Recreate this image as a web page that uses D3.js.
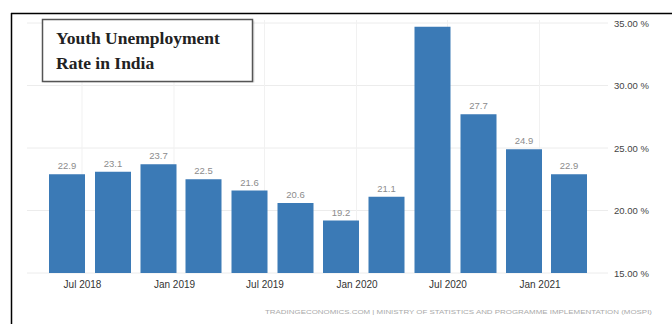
<!DOCTYPE html>
<head>
  <meta charset="utf-8">
  <script src="https://cdn.jsdelivr.net/npm/d3@7"></script>
  <style>
    body { margin: 0; background: #fff; }
    text { font-family: "Liberation Sans", Arial, sans-serif; }
  </style>
</head>
<body>
<div id="container"></div>
<script>
  // quarterly readings (bar sits on the quarter month)
  const quarters = ['2018-06', '2018-09', '2018-12', '2019-03', '2019-06', '2019-09',
                    '2019-12', '2020-03', '2020-06', '2020-09', '2020-12', '2021-03'];
  const rates = [22.9, 23.1, 23.7, 22.5, 21.6, 20.6, 19.2, 21.1, 34.7, 27.7, 24.9, 22.9];
  const xTicks = ['2018-07', '2019-01', '2019-07', '2020-01', '2020-07', '2021-01'];
  const yTicks = [15, 20, 25, 30, 35];
  const titleLines = ['Youth Unemployment', 'Rate in India'];
  const source = 'TRADINGECONOMICS.COM  |  MINISTRY OF STATISTICS AND PROGRAMME IMPLEMENTATION (MOSPI)';

  const width = 672, height = 324;
  const barWidth = 36;
  const parse = d3.timeParse('%Y-%m');

  const svg = d3.select('#container').append('svg')
    .attr('width', width)
    .attr('height', height);

  const x = d3.scaleTime()
    .domain([parse(quarters[0]), parse(quarters[quarters.length - 1])])
    .range([67, 569]);

  const y = d3.scaleLinear()
    .domain([15, 35])
    .range([273, 23]);

  // gridlines
  svg.append('g').selectAll('line')
    .data(yTicks)
    .join('line')
      .attr('x1', 27).attr('x2', 608)
      .attr('y1', d => y(d)).attr('y2', d => y(d))
      .attr('stroke', '#ececec');

  svg.append('g').selectAll('line')
    .data(xTicks)
    .join('line')
      .attr('x1', d => x(parse(d))).attr('x2', d => x(parse(d)))
      .attr('y1', 20).attr('y2', 273)
      .attr('stroke', '#f1f1f1');

  // bars
  svg.append('g').selectAll('rect')
    .data(rates)
    .join('rect')
      .attr('x', (d, i) => x(parse(quarters[i])) - barWidth / 2)
      .attr('y', d => y(d))
      .attr('width', barWidth)
      .attr('height', d => y(15) - y(d))
      .attr('fill', '#3b7ab6');

  // value labels (the tallest one runs off the top, so none there)
  svg.append('g').selectAll('text')
    .data(rates.map((v, i) => ({v, i})).filter(d => y(d.v) - 9 > y(35)))
    .join('text')
      .attr('x', d => x(parse(quarters[d.i])))
      .attr('y', d => y(d.v) - 5)
      .attr('text-anchor', 'middle')
      .attr('font-size', 9.5)
      .attr('fill', '#8c8c8c')
      .text(d => d.v.toFixed(1));

  // axes
  const xAxis = svg.append('g')
    .attr('transform', `translate(0, ${y(15)})`)
    .call(d3.axisBottom(x)
      .tickValues(xTicks.map(parse))
      .tickFormat(d3.timeFormat('%b %Y'))
      .tickSize(0)
      .tickPadding(8));
  xAxis.select('.domain').remove();
  xAxis.selectAll('text')
    .attr('font-size', 10)
    .attr('fill', '#333');

  const yAxis = svg.append('g')
    .attr('transform', 'translate(608, 0)')
    .call(d3.axisRight(y)
      .tickValues(yTicks)
      .tickFormat(d => d.toFixed(2) + ' %')
      .tickSize(0)
      .tickPadding(6));
  yAxis.select('.domain').remove();
  yAxis.selectAll('text')
    .attr('font-size', 9.5)
    .attr('fill', '#444');

  // source line
  svg.append('text')
    .attr('x', 265)
    .attr('y', 314)
    .attr('font-size', 5.5)
    .attr('fill', '#aaa')
    .attr('textLength', 387)
    .attr('lengthAdjust', 'spacingAndGlyphs')
    .text(source);

  // title box
  svg.append('rect')
    .attr('x', 43.5).attr('y', 20.5)
    .attr('width', 211).attr('height', 62)
    .attr('fill', '#000').attr('opacity', 0.12);
  svg.append('rect')
    .attr('x', 42.5).attr('y', 19.5)
    .attr('width', 210).attr('height', 62)
    .attr('fill', '#fff')
    .attr('stroke', '#555')
    .attr('stroke-width', 1.5);
  svg.append('g').selectAll('text')
    .data(titleLines)
    .join('text')
      .attr('x', 56)
      .attr('y', (d, i) => 44 + i * 25)
      .style('font-family', '"Liberation Serif", "Times New Roman", serif')
      .attr('font-weight', 'bold')
      .attr('font-size', 17.5)
      .attr('fill', '#222')
      .text(d => d);

  // frame edges
  svg.append('line')
    .attr('x1', 11).attr('x2', width)
    .attr('y1', 13.5).attr('y2', 13.5)
    .attr('stroke', '#000').attr('stroke-width', 1.5);
  svg.append('line')
    .attr('x1', 11.5).attr('x2', 11.5)
    .attr('y1', 13).attr('y2', height)
    .attr('stroke', '#000').attr('stroke-width', 1.5);
</script>
</body>
